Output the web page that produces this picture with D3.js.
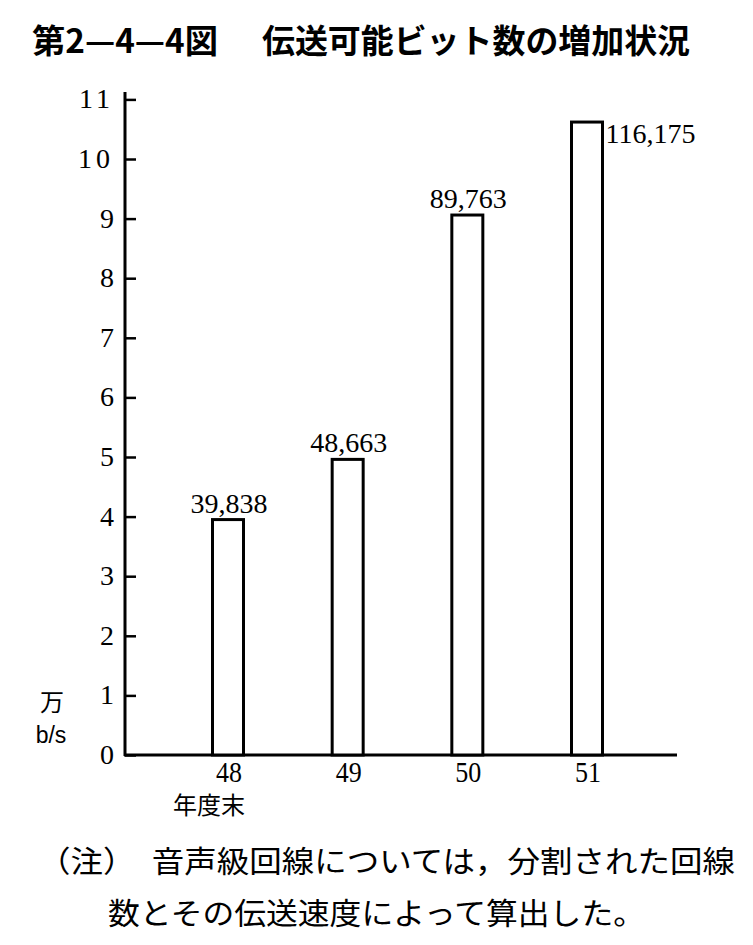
<!DOCTYPE html>
<html><head><meta charset="utf-8">
<script src="https://cdn.jsdelivr.net/npm/d3@7"></script>
<style>body{margin:0;background:#fff}svg{display:block}</style>
</head><body>
<svg id="c" width="753" height="945"></svg>
<script>
const categories = ["48", "49", "50", "51"];
const values = [3.95, 4.96, 9.06, 10.62];      // bar heights as drawn (万 b/s)
const valueLabels = ["39,838", "48,663", "89,763", "116,175"];
const yTicks = [0,1,2,3,4,5,6,7,8,9,10,11];
const titleA = "第2—4—4図";
const titleB = "伝送可能ビット数の増加状況";
const noteLines = ["（注）　音声級回線については，分割された回線", "数とその伝送速度によって算出した。"];

const svg = d3.select("#c");
const serif = "'Liberation Serif','DejaVu Serif',serif";
const jp = "'Noto Sans CJK JP',sans-serif";

const y = d3.scaleLinear().domain([0, 11]).range([755, 99.4]);
const x = d3.scalePoint().domain(categories).range([228, 587]);
const axisX = 125, axisRight = 677, barW = 31;

// title
svg.append("text").attr("x", 32).attr("y", 53).attr("font-family", jp).attr("font-weight", "bold")
  .attr("font-size", 33).attr("textLength", 186).attr("lengthAdjust", "spacingAndGlyphs").text(titleA);
svg.append("text").attr("x", 262).attr("y", 53).attr("font-family", jp).attr("font-weight", "bold")
  .attr("font-size", 33).attr("textLength", 428).attr("lengthAdjust", "spacingAndGlyphs").text(titleB);

// y axis
const gy = svg.append("g").attr("transform", `translate(${axisX},0)`)
  .call(d3.axisRight(y).tickValues(yTicks).tickSize(11).tickFormat(""));
gy.select(".domain").remove();
gy.selectAll(".tick line").attr("stroke", "#000").attr("stroke-width", 2.5);
svg.append("line").attr("x1", axisX).attr("x2", axisX).attr("y1", 92).attr("y2", y(0) + 1)
  .attr("stroke", "#000").attr("stroke-width", 3);
svg.selectAll(".ylab").data(yTicks).join("text").attr("class", "ylab")
  .attr("x", 114).attr("y", d => y(d) + 9).attr("text-anchor", "end")
  .attr("font-family", serif).attr("font-size", 28).attr("letter-spacing", d => d >= 10 ? 4 : 0)
  .text(d => d);

// baseline
svg.append("line").attr("x1", axisX - 1).attr("x2", axisRight).attr("y1", y(0)).attr("y2", y(0))
  .attr("stroke", "#000").attr("stroke-width", 3);

// bars
svg.selectAll(".bar").data(values).join("rect").attr("class", "bar")
  .attr("x", (d, i) => x(categories[i]) - barW / 2).attr("width", barW)
  .attr("y", d => y(d)).attr("height", d => y(0) - y(d))
  .attr("fill", "#fff").attr("stroke", "#000").attr("stroke-width", 3);

// value labels
svg.selectAll(".vl").data(values).join("text").attr("class", "vl")
  .attr("x", (d, i) => i === 3 ? x(categories[i]) + barW / 2 + 3 : x(categories[i]) + 1)
  .attr("y", (d, i) => i === 3 ? y(d) + 21 : y(d) - 7)
  .attr("text-anchor", (d, i) => i === 3 ? "start" : "middle")
  .attr("font-family", serif).attr("font-size", 28)
  .text((d, i) => valueLabels[i]);

// x labels
svg.selectAll(".xl").data(categories).join("text").attr("class", "xl")
  .attr("x", d => x(d) + 1).attr("y", 782).attr("text-anchor", "middle")
  .attr("font-family", serif).attr("font-size", 30)
  .attr("textLength", 26).attr("lengthAdjust", "spacingAndGlyphs").text(d => d);
svg.append("text").attr("x", 209).attr("y", 814).attr("text-anchor", "middle")
  .attr("font-family", jp).attr("font-size", 24).text("年度末");

// unit
svg.append("text").attr("x", 52).attr("y", 711).attr("text-anchor", "middle")
  .attr("font-family", jp).attr("font-size", 24).text("万");
svg.append("text").attr("x", 51).attr("y", 743).attr("text-anchor", "middle")
  .attr("font-family", "'Liberation Sans',sans-serif").attr("font-size", 23).text("b/s");

// note
svg.append("text").attr("x", 38).attr("y", 872).attr("font-family", jp).attr("font-size", 30)
  .attr("textLength", 697).attr("lengthAdjust", "spacingAndGlyphs").text(noteLines[0]);
svg.append("text").attr("x", 108).attr("y", 924).attr("font-family", jp).attr("font-size", 30)
  .attr("textLength", 537).attr("lengthAdjust", "spacingAndGlyphs").text(noteLines[1]);
</script>
</body></html>
